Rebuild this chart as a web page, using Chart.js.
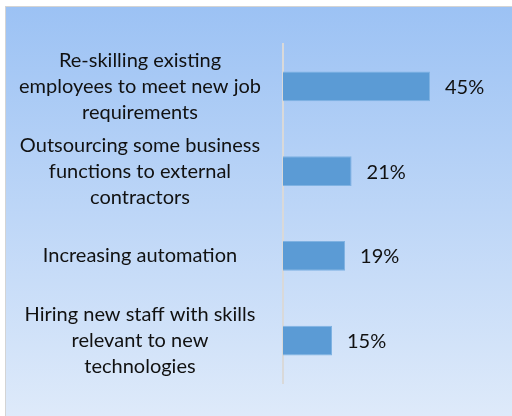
<!DOCTYPE html>
<html>
<head>
<meta charset="utf-8">
<script src="https://cdn.jsdelivr.net/npm/chart.js@4"></script>
<style>
    html, body { margin: 0; padding: 0; background: #ffffff; }
    #panel {
        position: absolute;
        left: 5px;
        top: 6px;
        width: 507px;
        height: 410px;
        border-left: 1px solid #d4d4d4;
        border-top: 1px solid #d4d4d4;
        background: linear-gradient(#9cc2f4, #deeafa);
    }
    #wrap { position: absolute; left: 0; top: 0; width: 512px; height: 416px; }
</style>
</head>
<body>
<div id="panel"></div>
<div id="wrap"><canvas id="chart" width="512" height="416"></canvas></div>
<script>
// Categories (wrapped onto several lines) and their shares in percent
const categories = [
    ['Re-skilling existing', 'employees to meet new job', 'requirements'],
    ['Outsourcing some business', 'functions to external', 'contractors'],
    ['Increasing automation'],
    ['Hiring new staff with skills', 'relevant to new', 'technologies']
];
const shares = [45, 21, 19, 15];

const labelFont = { family: 'Lato', size: 20, lineHeight: 1.3 };

// Writes "NN%" just to the right of each bar
const valueLabels = {
    id: 'valueLabels',
    afterDatasetsDraw(chart) {
        const ctx = chart.ctx;
        const meta = chart.getDatasetMeta(0);
        ctx.save();
        ctx.font = `${labelFont.size}px ${labelFont.family}`;
        ctx.fillStyle = '#111111';
        ctx.textAlign = 'left';
        ctx.textBaseline = 'middle';
        meta.data.forEach((bar, i) => {
            ctx.fillText(shares[i] + '%', bar.x + 15, bar.y + 1);
        });
        ctx.restore();
    }
};

const ctx = document.getElementById('chart').getContext('2d');
new Chart(ctx, {
    type: 'bar',
    data: {
        labels: categories,
        datasets: [{
            data: shares,
            backgroundColor: '#5b9bd5',
            borderColor: '#7fb2e2',
            borderWidth: 1,
            barPercentage: 0.35,
            categoryPercentage: 1
        }]
    },
    options: {
        indexAxis: 'y',
        responsive: false,
        animation: false,
        layout: { padding: { left: 0, right: 33, top: 44, bottom: 33 } },
        plugins: {
            legend: { display: false },
            tooltip: { enabled: false }
        },
        scales: {
            x: {
                display: false,
                min: 0,
                max: 60
            },
            y: {
                // fixed axis width, and no extra room for the tall multi-line labels
                afterFit(scale) {
                    scale.width = 283;
                    scale.paddingTop = 0;
                    scale.paddingBottom = 0;
                },
                grid: { color: 'transparent', drawTicks: false },
                border: { display: true, color: '#d9d9d9', width: 2 },
                ticks: {
                    crossAlign: 'center',
                    padding: 22,
                    color: '#111111',
                    font: labelFont
                }
            }
        }
    },
    plugins: [valueLabels]
});
</script>
</body>
</html>
